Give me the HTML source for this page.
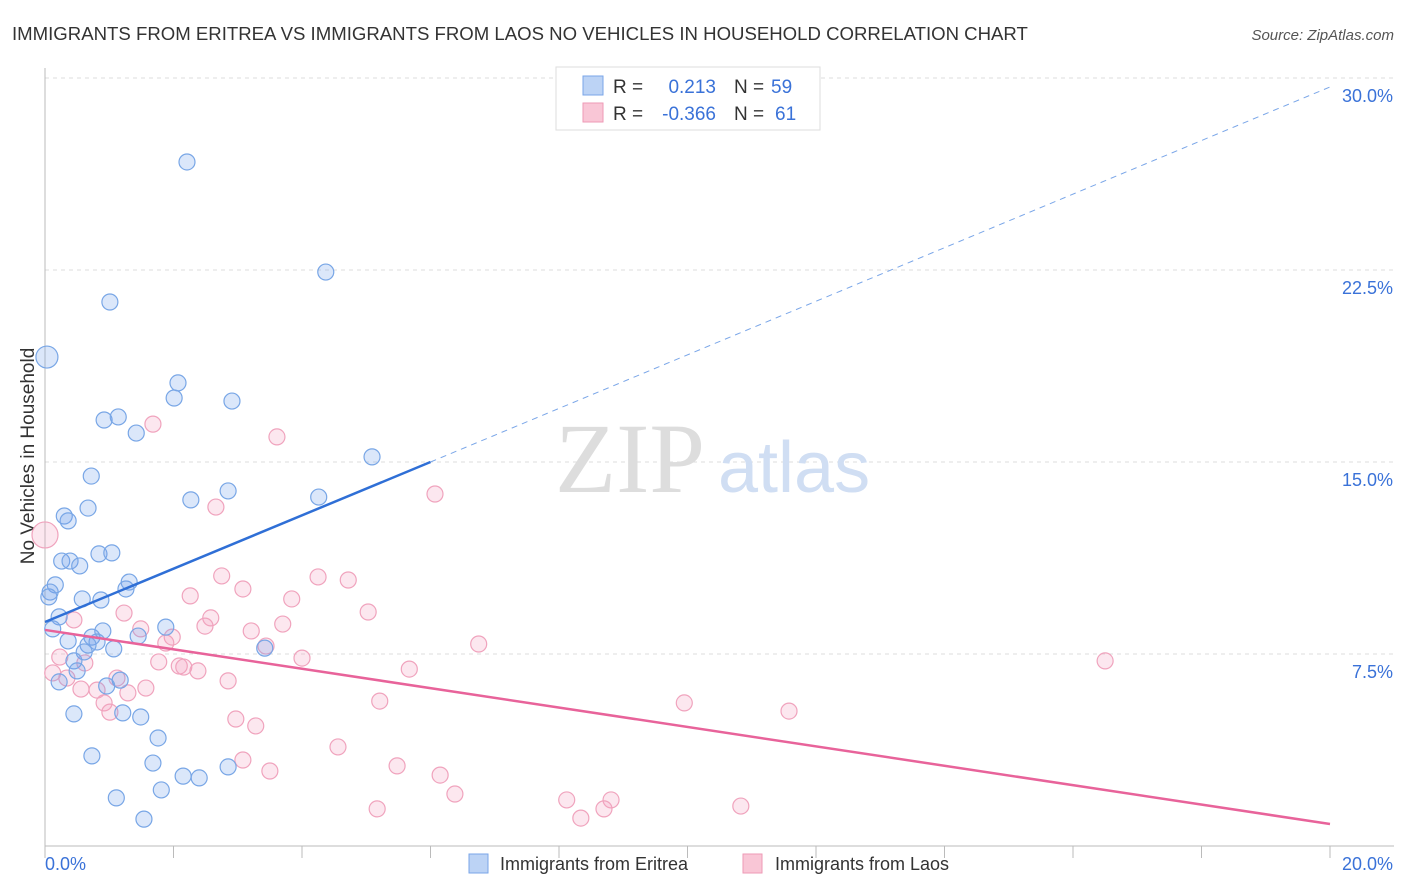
<!DOCTYPE html>
<html><head><meta charset="utf-8"><style>
body{margin:0;background:#fff;font-family:"Liberation Sans",sans-serif;}
svg{display:block}
</style></head><body>
<svg id="chart" width="1406" height="892">
<text x="12" y="40" font-size="18.6" fill="#333">IMMIGRANTS FROM ERITREA VS IMMIGRANTS FROM LAOS NO VEHICLES IN HOUSEHOLD CORRELATION CHART</text>
<text x="1394" y="40" font-size="15" fill="#555" font-style="italic" text-anchor="end">Source: ZipAtlas.com</text>
<g id="grid"></g>
<text x="555" y="492" font-size="100" fill="#ddd" font-family="Liberation Serif,serif">ZIP</text>
<text x="718" y="492" font-size="72" fill="#d0def3">atlas</text>
<text transform="translate(34,456) rotate(-90)" font-size="19" fill="#333" text-anchor="middle">No Vehicles in Household</text>
<g id="pts"></g>
<g id="lines"></g>
<g>
<rect x="556" y="67" width="264" height="63" fill="#fff" stroke="#ddd"/>
<rect x="583" y="76" width="20" height="19" fill="#bcd3f5" stroke="#7aa6e8"/>
<rect x="583" y="103" width="20" height="19" fill="#f9c6d6" stroke="#ee9ab6"/>
<text x="613" y="93" font-size="19" fill="#333">R =</text>
<text x="716" y="93" font-size="19" fill="#3a72d8" text-anchor="end">0.213</text>
<text x="734" y="93" font-size="19" fill="#333">N =</text>
<text x="771" y="93" font-size="19" fill="#3a72d8">59</text>
<text x="613" y="120" font-size="19" fill="#333">R =</text>
<text x="716" y="120" font-size="19" fill="#3a72d8" text-anchor="end">-0.366</text>
<text x="734" y="120" font-size="19" fill="#333">N =</text>
<text x="775" y="120" font-size="19" fill="#3a72d8">61</text>
</g>
<g>
<rect x="469" y="854" width="19" height="19" fill="#bcd3f5" stroke="#7aa6e8"/>
<text x="500" y="870" font-size="18" fill="#333">Immigrants from Eritrea</text>
<rect x="743" y="854" width="19" height="19" fill="#f9c6d6" stroke="#ee9ab6"/>
<text x="775" y="870" font-size="18" fill="#333">Immigrants from Laos</text>
</g>
</svg>
<script>
const xTicksMin=0, xTicksMax=20;
const yTickValues=[7.5,15,22.5,30];
const yTickLabels=["7.5%","15.0%","22.5%","30.0%"];
const eritreaX=[2.21,4.37,1.01,0.03,2.07,2.01,2.91,0.92,1.14,1.42,5.09,0.72,2.85,2.27,4.26,0.67,0.30,0.36,0.26,0.39,0.84,1.04,0.54,0.16,1.31,1.26,0.08,0.06,0.58,0.87,0.22,1.88,0.12,0.90,0.73,1.45,0.36,0.81,0.67,1.07,0.61,3.42,0.45,0.50,1.17,0.96,0.22,0.45,1.21,1.49,1.76,0.73,1.68,2.15,2.40,2.85,1.81,1.11,1.54];
const eritreaY=[26.72,22.42,21.25,19.10,18.09,17.50,17.38,16.64,16.76,16.13,15.20,14.45,13.87,13.52,13.63,13.20,12.89,12.70,11.13,11.13,11.41,11.45,10.94,10.20,10.31,10.04,9.92,9.73,9.65,9.61,8.95,8.55,8.48,8.40,8.16,8.20,8.01,7.97,7.85,7.70,7.58,7.73,7.23,6.84,6.48,6.25,6.41,5.16,5.20,5.04,4.22,3.52,3.24,2.73,2.66,3.09,2.19,1.88,1.05];
const laosX=[0.0,1.68,3.61,6.07,2.66,2.75,4.25,4.72,3.08,2.26,3.84,1.23,2.58,5.03,0.45,2.49,1.49,3.21,3.70,1.98,1.88,3.44,6.75,16.50,0.23,0.62,1.77,2.09,2.16,2.38,4.00,5.67,0.12,1.12,0.34,2.85,1.57,0.56,0.81,1.29,5.21,0.92,1.01,9.95,11.58,2.97,3.28,4.56,3.08,5.48,3.50,6.15,6.38,8.12,8.81,8.70,10.83,5.17,8.34];
const laosY=[12.15,16.48,15.98,13.75,13.24,10.55,10.51,10.39,10.04,9.77,9.65,9.10,8.91,9.14,8.83,8.59,8.48,8.40,8.67,8.16,7.93,7.81,7.89,7.23,7.38,7.15,7.19,7.03,6.99,6.84,7.34,6.91,6.76,6.56,6.56,6.45,6.17,6.13,6.09,5.98,5.66,5.59,5.23,5.59,5.27,4.96,4.69,3.87,3.36,3.13,2.93,2.77,2.03,1.80,1.80,1.45,1.56,1.45,1.09];
const eritreaLine=[8.75,15.0,29.65]; // y at x=0, x=6, x=20
const laosLine=[8.44,0.86]; // y at x=0, x=20
const NS="http://www.w3.org/2000/svg";
const X=v=>45+v*64.25, Y=v=>846-v*25.6;
function mk(p,t,a){const e=document.createElementNS(NS,t);for(const k in a)e.setAttribute(k,a[k]);p.appendChild(e);return e;}
const g=document.getElementById('grid');
yTickValues.forEach((v,i)=>{
 const l=mk(g,'line',{x1:45,x2:1394,y1:Y(v),y2:Y(v),stroke:'#ddd','stroke-dasharray':'4,4'});
 
 
 const t=mk(g,'text',{x:1393,y:Y(v)+24,'font-size':18,fill:'#3a72d8','text-anchor':'end'});
 t.textContent=yTickLabels[i];
 
 
});
mk(g,'line',{x1:45,x2:45,y1:68,y2:846,stroke:'#bbb'});
mk(g,'line',{x1:45,x2:1394,y1:846,y2:846,stroke:'#bbb'});
for(let v=xTicksMin;v<=xTicksMax;v+=2){const l=mk(g,'line',{x1:X(v),x2:X(v),y1:846,y2:858,stroke:'#bbb'});
 
 }
let t0=mk(g,'text',{x:45,y:870,'font-size':18,fill:'#3a72d8'});t0.textContent='0.0%';


let t1=mk(g,'text',{x:1393,y:870,'font-size':18,fill:'#3a72d8','text-anchor':'end'});t1.textContent='20.0%';


const pg=document.getElementById('pts');
laosX.forEach((x,i)=>{const c=mk(pg,'circle',{cx:X(x),cy:Y(laosY[i]),r:i==0?13:8,fill:'rgba(244,160,190,0.25)',stroke:'#f0a3bd','stroke-width':1.2});
 
 });
eritreaX.forEach((x,i)=>{const c=mk(pg,'circle',{cx:X(x),cy:Y(eritreaY[i]),r:i==3?11:8,fill:'rgba(110,160,235,0.25)',stroke:'#78a6e6','stroke-width':1.2});
 
 });
const lg=document.getElementById('lines');
let a=mk(lg,'line',{x1:X(0),y1:Y(eritreaLine[0]),x2:X(6),y2:Y(eritreaLine[1]),stroke:'#2f6fd6','stroke-width':2.5});


let b=mk(lg,'line',{x1:X(6),y1:Y(eritreaLine[1]),x2:X(20),y2:Y(eritreaLine[2]),stroke:'#7aa6e8','stroke-width':1,'stroke-dasharray':'6,5'});


let c=mk(lg,'line',{x1:X(0),y1:Y(laosLine[0]),x2:X(20),y2:Y(laosLine[1]),stroke:'#e8639a','stroke-width':2.5});


</script>
</body></html>
